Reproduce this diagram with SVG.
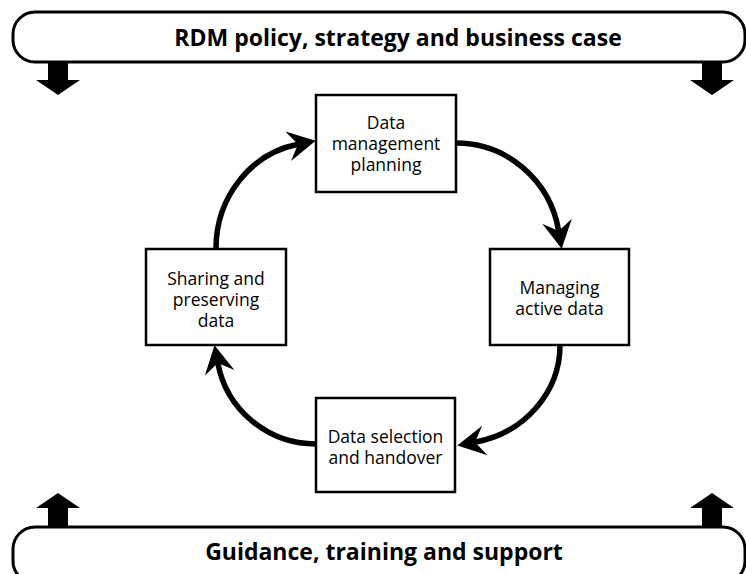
<svg xmlns="http://www.w3.org/2000/svg" width="746" height="574" viewBox="0 0 746 574">
<style>
.box{fill:#fff;stroke:#000;stroke-width:2.5}
.ban{fill:#fff;stroke:#000;stroke-width:3}
.t{font-family:"Open Sans","Noto Sans",sans-serif;font-size:17.5px;text-anchor:middle;fill:#000}
.bt{font-family:"Open Sans","Noto Sans",sans-serif;font-size:23px;font-weight:bold;text-anchor:middle;fill:#000}
.arc{fill:none;stroke:#000;stroke-width:5.5;marker-end:url(#ah)}
.blk{fill:#000}
</style>
<defs>
<marker id="ah" markerUnits="userSpaceOnUse" markerWidth="30" markerHeight="32" refX="10" refY="15" orient="auto" overflow="visible">
<path d="M0,0 L28,15 L0,30 L10,15 Z" fill="#000"/>
</marker>
</defs>
<g id="banner-top">
<rect class="ban" x="13" y="12" width="732" height="50" rx="22"/>
<text class="bt" x="398" y="46">RDM policy, strategy and business case</text>
</g>
<g id="banner-bottom">
<rect class="ban" x="13" y="527" width="732" height="56" rx="22"/>
<text class="bt" x="384" y="560">Guidance, training and support</text>
</g>
<g id="block-arrows">
<path class="blk" d="M48,62 H68 V80 H80 L58,95 L36,80 H48 Z"/>
<path class="blk" d="M702,62 H722 V80 H734 L712,95 L690,80 H702 Z"/>
<path class="blk" d="M48,527 H68 V508 H80 L58,493 L36,508 H48 Z"/>
<path class="blk" d="M702,527 H722 V508 H734 L712,493 L690,508 H702 Z"/>
</g>
<g id="connectors">
<path class="arc" d="M456,143 A104,106 0 0 1 558.7,231"/>
<path class="arc" d="M560,345 A105,99 0 0 1 475,442.2"/>
<path class="arc" d="M316,444 A100,99 0 0 1 217.8,363"/>
<path class="arc" d="M216,249 A100,106 0 0 1 298,144.3"/>
</g>
<g id="dmp">
<rect class="box" x="316" y="95" width="140" height="97"/>
<text class="t" x="386" y="129">Data</text>
<text class="t" x="386" y="150">management</text>
<text class="t" x="386" y="171">planning</text>
</g>
<g id="managing">
<rect class="box" x="490" y="249" width="139" height="96"/>
<text class="t" x="559.5" y="294">Managing</text>
<text class="t" x="559.5" y="315">active data</text>
</g>
<g id="selection">
<rect class="box" x="316" y="398" width="139" height="94"/>
<text class="t" x="385.5" y="443">Data selection</text>
<text class="t" x="385.5" y="464">and handover</text>
</g>
<g id="sharing">
<rect class="box" x="146" y="249" width="140" height="96"/>
<text class="t" x="216" y="285">Sharing and</text>
<text class="t" x="216" y="306">preserving</text>
<text class="t" x="216" y="327">data</text>
</g>
</svg>
